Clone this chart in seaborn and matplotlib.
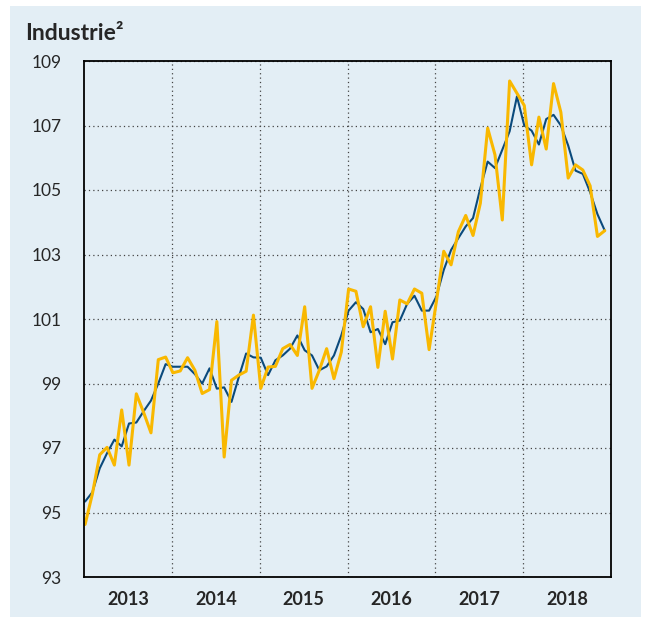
import numpy as np
import pandas as pd
import seaborn as sns
import matplotlib.pyplot as plt
import matplotlib.ticker as ticker
from matplotlib.patches import Rectangle

YEARS = ['2013', '2014', '2015', '2016', '2017', '2018']
Y_TICKS = [93, 95, 97, 99, 101, 103, 105, 107, 109]

# monthly index values (yellow), Jan 2013 .. Dec 2018
monthly = [
    94.63, 95.58, 96.79, 97.02, 96.47, 98.18, 96.47, 98.68, 98.10, 97.47, 99.74, 99.82,
    99.33, 99.39, 99.80, 99.41, 98.69, 98.81, 100.92, 96.72, 99.10, 99.26, 99.38, 101.12,
    98.85, 99.51, 99.53, 100.08, 100.21, 99.87, 101.38, 98.85, 99.41, 100.08, 99.15, 99.97,
    101.93, 101.86, 100.76, 101.38, 99.50, 101.24, 99.76, 101.59, 101.47, 101.93, 101.80, 100.05,
    101.55, 103.10, 102.68, 103.71, 104.21, 103.59, 104.59, 106.92, 106.09, 104.07, 108.38, 108.00,
    107.62, 105.78, 107.26, 106.27, 108.30, 107.41, 105.37, 105.78, 105.62, 105.13, 103.56, 103.74,
]

# smoothed trend (dark blue)
trend = [
    95.34, 95.63, 96.37, 96.84, 97.26, 97.05, 97.76, 97.79, 98.14, 98.47, 99.00, 99.60,
    99.52, 99.52, 99.52, 99.29, 99.00, 99.47, 98.84, 98.88, 98.43, 99.20, 99.93, 99.81,
    99.80, 99.26, 99.72, 99.87, 100.08, 100.49, 100.03, 99.87, 99.41, 99.53, 99.87, 100.49,
    101.26, 101.52, 101.31, 100.59, 100.69, 100.22, 100.90, 100.95, 101.47, 101.72, 101.26, 101.26,
    101.70, 102.52, 103.14, 103.51, 103.87, 104.13, 105.06, 105.88, 105.68, 106.25, 106.82, 107.90,
    107.00, 106.84, 106.41, 107.20, 107.33, 107.00, 106.38, 105.60, 105.50, 104.93, 104.25, 103.74,
]

BG = '#e3eef5'
YELLOW = '#f9b800'
BLUE = '#0b4a7c'

df = pd.DataFrame({'month': np.arange(len(monthly)) + 0.15,
                   'monthly': monthly, 'trend': trend})

sns.set_style('white')
plt.rcParams['font.family'] = ['Lato', 'DejaVu Sans']

fig = plt.figure(figsize=(6.45, 6.28), dpi=100)
fig.patch.set_facecolor('white')
fig.patches.append(Rectangle((10 / 645, 11 / 628), 631 / 645, 611 / 628,
                             transform=fig.transFigure, facecolor=BG,
                             edgecolor='none', zorder=-10))

ax = fig.add_axes([84 / 645, 51 / 628, 527 / 645, 516 / 628])
ax.set_facecolor(BG)

sns.lineplot(data=df, x='month', y='trend', color=BLUE, linewidth=1.5, ax=ax)
sns.lineplot(data=df, x='month', y='monthly', color=YELLOW, linewidth=2.2, ax=ax)

ax.set_xlim(0, 72)
ax.set_ylim(93, 109)
ax.set_yticks(Y_TICKS)
ax.set_yticklabels([str(t) for t in Y_TICKS], fontsize=12.5)
ax.tick_params(axis='y', length=9, width=1.2, pad=7, color='black')

# year boundaries as gridlines, labels centred in each year
ax.xaxis.set_major_locator(ticker.FixedLocator(np.arange(12, 72, 12)))
ax.xaxis.set_major_formatter(ticker.NullFormatter())
ax.xaxis.set_minor_locator(ticker.FixedLocator(np.arange(6, 72, 12)))
ax.xaxis.set_minor_formatter(ticker.FixedFormatter(YEARS))
ax.tick_params(axis='x', which='both', length=0)
ax.tick_params(axis='x', which='minor', pad=10, labelsize=13)
for lbl in ax.get_xticklabels(minor=True):
    lbl.set_fontweight('bold')

ax.grid(True, axis='both', which='major', color='#444444',
        linestyle=(0, (1, 2.5)), linewidth=0.9)
ax.set_axisbelow(True)
ax.set_xlabel('')
ax.set_ylabel('')

for side in ['left', 'right', 'top', 'bottom']:
    ax.spines[side].set_visible(True)
    ax.spines[side].set_color('black')
    ax.spines[side].set_linewidth(1.3)

fig.text(25 / 645, 1 - 33 / 628, 'Industrie²', fontsize=16.5, fontweight='bold',
         ha='left', va='center')

plt.savefig('out.png', dpi=100)
plt.close()
